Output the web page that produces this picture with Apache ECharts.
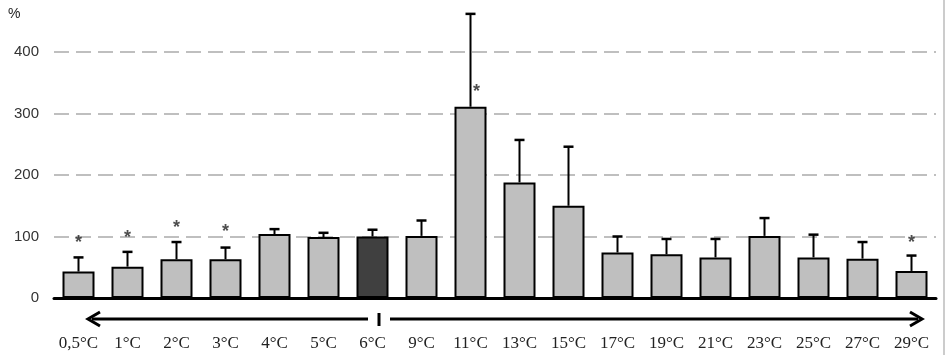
<!DOCTYPE html>
<html>
<head>
<meta charset="utf-8">
<script src="https://cdn.jsdelivr.net/npm/echarts@6/dist/echarts.min.js"></script>
<style>
  html, body { margin: 0; padding: 0; background: #fff; }
  #chart { width: 945px; height: 355px; }
</style>
</head>
<body>
<div id="chart"></div>
<script>
const temps = ['0,5°C', '1°C', '2°C', '3°C', '4°C', '5°C', '6°C', '9°C', '11°C', '13°C',
               '15°C', '17°C', '19°C', '21°C', '23°C', '25°C', '27°C', '29°C'];
const means = [43, 51, 63, 63, 104, 99, 100, 101, 311, 188, 150, 74, 71, 66, 101, 66, 64, 44];
const errTops = [66, 75, 91, 82, 112, 106, 111, 126, 462, 257, 246, 100, 96, 96, 130, 103, 91, 69];
// where the significance stars sit (null = no star)
const stars = [96, 104, 121, 113, null, null, null, null, 342, null, null, null, null, null, null, null, null, 96];
const refIndex = 6; // 6°C control bar
const yTicks = [0, 100, 200, 300, 400];

const chart = echarts.init(document.getElementById('chart'), null, { renderer: 'canvas' });

const barData = means.map((v, i) => ({
    value: v,
    itemStyle: { color: i === refIndex ? '#404040' : '#bfbfbf' }
}));

const errData = means.map((v, i) => [i, v, errTops[i]]);
const starData = stars.map((v, i) => v == null ? null : [i, v]).filter(d => d);

function renderErr(params, api) {
    const x = api.value(0);
    const lo = api.coord([x, api.value(1)]);
    const hi = api.coord([x, api.value(2)]);
    const cap = 5;
    return {
        type: 'group',
        children: [
            { type: 'line', shape: { x1: lo[0], y1: lo[1], x2: hi[0], y2: hi[1] },
              style: { stroke: '#000', lineWidth: 2 } },
            { type: 'line', shape: { x1: hi[0] - cap, y1: hi[1], x2: hi[0] + cap, y2: hi[1] },
              style: { stroke: '#000', lineWidth: 2.5 } }
        ]
    };
}

const option = {
    backgroundColor: '#fff',
    animation: false,
    grid: { left: 54, right: 9, top: 52, bottom: 57, containLabel: false },
    xAxis: {
        type: 'category',
        data: temps,
        axisLine: { lineStyle: { color: '#000', width: 3 } },
        axisTick: { show: false },
        axisLabel: {
            margin: 37,
            color: '#222',
            fontFamily: 'Liberation Serif',
            fontSize: 17,
            interval: 0
        }
    },
    yAxis: {
        type: 'value',
        min: 0,
        max: 400,
        interval: 100,
        axisLine: { show: false },
        axisTick: { show: false },
        axisLabel: {
            margin: 15,
            color: '#333',
            fontFamily: 'Liberation Sans',
            fontSize: 15,
            formatter: v => yTicks.includes(v) ? String(v) : ''
        },
        splitLine: {
            lineStyle: { color: '#bfbfbf', width: 2, type: [15, 7] }
        }
    },
    series: [
        {
            type: 'bar',
            data: barData,
            barWidth: 32,
            itemStyle: { borderColor: '#000', borderWidth: 2 },
            z: 3
        },
        {
            type: 'custom',
            renderItem: renderErr,
            data: errData,
            clip: false,
            z: 4
        },
        {
            type: 'scatter',
            data: starData,
            symbolSize: 0,
            z: 5,
            label: {
                show: true,
                position: 'inside',
                formatter: '*',
                color: '#222',
                fontFamily: 'Liberation Sans',
                fontWeight: 'bold',
                fontSize: 18,
                offset: [0, 4]
            }
        }
    ],
    graphic: [
        { type: 'text', left: 8, top: 7,
          style: { text: '%', fill: '#222', font: '14px Liberation Sans' } },
        // direction arrows under the axis
        { type: 'line', shape: { x1: 92, y1: 319, x2: 368, y2: 319 },
          style: { stroke: '#000', lineWidth: 3 } },
        { type: 'polyline', shape: { points: [[100, 312], [88, 319], [100, 326]] },
          style: { stroke: '#000', lineWidth: 3, fill: null } },
        { type: 'line', shape: { x1: 379, y1: 313, x2: 379, y2: 326 },
          style: { stroke: '#000', lineWidth: 3 } },
        { type: 'line', shape: { x1: 390, y1: 319, x2: 918, y2: 319 },
          style: { stroke: '#000', lineWidth: 3 } },
        { type: 'polyline', shape: { points: [[910, 312], [922, 319], [910, 326]] },
          style: { stroke: '#000', lineWidth: 3, fill: null } },
        { type: 'line', shape: { x1: 944, y1: 0, x2: 944, y2: 355 },
          style: { stroke: '#999', lineWidth: 1 } }
    ]
};

chart.setOption(option);

// nudge the 11°C star off its error bar, as in the original
chart.setOption({
    series: [{}, {}, {
        data: starData.map(d => d[0] === 8
            ? { value: d, label: { offset: [6, 4] } }
            : d)
    }]
});
</script>
</body>
</html>
